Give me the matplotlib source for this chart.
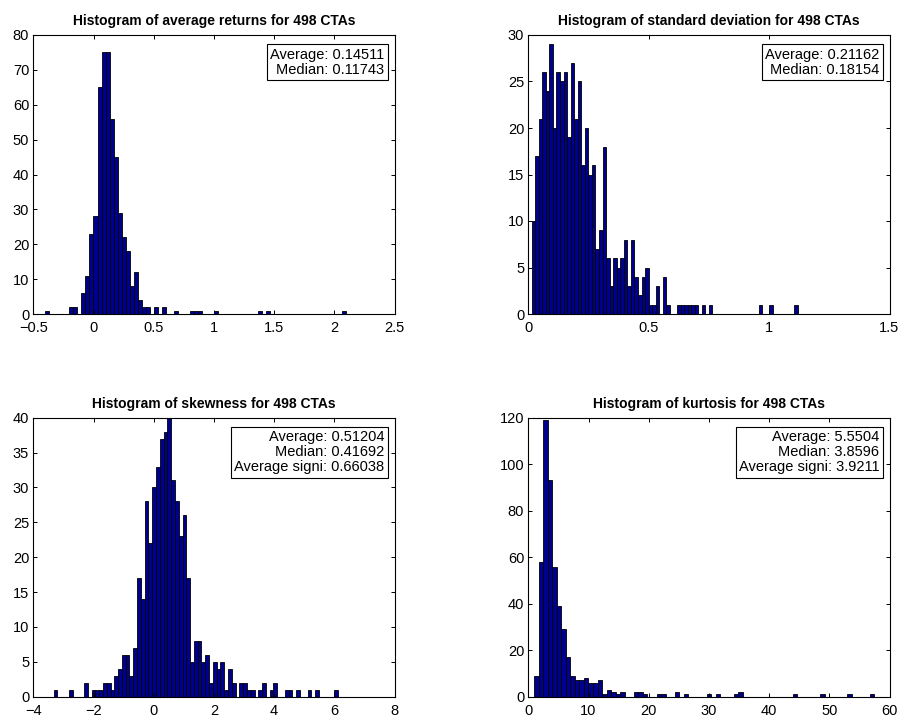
import numpy as np
import matplotlib
matplotlib.use("Agg")
import matplotlib.pyplot as plt
from matplotlib.ticker import FixedLocator, FuncFormatter

plt.rcParams['font.family'] = ['Liberation Sans', 'DejaVu Sans']

# ---- histogram data (75 bins each) ----
ret_start, ret_width = -0.40, 0.03333
ret_counts = [1, 0, 0, 0, 0, 0, 2, 2, 0, 6, 11, 23, 28, 65, 75, 75, 56, 45, 29, 22,
              18, 8, 12, 4, 2, 2, 0, 2, 0, 2, 0, 0, 1, 0, 0, 0, 1, 1, 1, 0,
              0, 0, 1, 0, 0, 0, 0, 0, 0, 0, 0, 0, 0, 1, 0, 1, 0, 0, 0, 0,
              0, 0, 0, 0, 0, 0, 0, 0, 0, 0, 0, 0, 0, 0, 1]

std_start, std_width = 0.014, 0.01472
std_counts = [10, 17, 21, 26, 24, 29, 20, 26, 25, 26, 19, 27, 21, 25, 16, 20, 15, 16, 7, 9,
              18, 6, 3, 6, 5, 6, 8, 3, 8, 4, 2, 4, 5, 1, 1, 3, 0, 4, 1, 0,
              0, 1, 1, 1, 1, 1, 1, 0, 1, 0, 1, 0, 0, 0, 0, 0, 0, 0, 0, 0,
              0, 0, 0, 0, 1, 0, 0, 1, 0, 0, 0, 0, 0, 0, 1]

skew_start, skew_width = -3.323, 0.1259
skew_counts = [1, 0, 0, 0, 1, 0, 0, 0, 2, 0, 1, 1, 1, 2, 2, 1, 3, 4, 6, 6,
               3, 7, 17, 14, 28, 22, 30, 33, 37, 38, 40, 31, 28, 23, 26, 17, 5, 8, 8, 5,
               6, 2, 5, 4, 5, 1, 4, 2, 0, 2, 2, 1, 1, 0, 1, 2, 0, 1, 2, 0,
               0, 1, 1, 0, 1, 0, 0, 1, 0, 1, 0, 0, 0, 0, 1]

kurt_start, kurt_width = 0.95, 0.754
kurt_counts = [9, 58, 119, 93, 56, 39, 29, 17, 9, 7, 7, 8, 6, 6, 7, 1, 3, 2, 1, 2,
               0, 0, 2, 2, 1, 0, 0, 1, 1, 0, 0, 2, 0, 1, 0, 0, 0, 0, 1, 0,
               1, 0, 0, 0, 1, 2, 0, 0, 0, 0, 0, 0, 0, 0, 0, 0, 0, 1, 0, 0,
               0, 0, 0, 1, 0, 0, 0, 0, 0, 1, 0, 0, 0, 0, 1]

titles = ["Histogram of average returns for 498 CTAs",
          "Histogram of standard deviation for 498 CTAs",
          "Histogram of skewness for 498 CTAs",
          "Histogram of kurtosis for 498 CTAs"]

stats_text = ["Average: 0.14511\nMedian: 0.11743",
              "Average: 0.21162\nMedian: 0.18154",
              "Average: 0.51204\nMedian: 0.41692\nAverage signi: 0.66038",
              "Average: 5.5504\nMedian: 3.8596\nAverage signi: 3.9211"]

xlims = [(-0.5, 2.5), (0, 1.5), (-4, 8), (0, 60)]
xticks = [np.arange(-0.5, 2.51, 0.5), np.arange(0, 1.51, 0.5),
          np.arange(-4, 8.1, 2), np.arange(0, 60.1, 10)]
ylims = [(0, 80), (0, 30), (0, 40), (0, 120)]
yticks = [np.arange(0, 81, 10), np.arange(0, 31, 5),
          np.arange(0, 41, 5), np.arange(0, 121, 20)]

hists = [(ret_start, ret_width, ret_counts),
         (std_start, std_width, std_counts),
         (skew_start, skew_width, skew_counts),
         (kurt_start, kurt_width, kurt_counts)]

W, H = 901, 720
fig = plt.figure(figsize=(W / 100, H / 100), dpi=100)

# axes rectangles in pixels: left, top, right, bottom
rects = [(33.3, 35.0, 394.5, 314.0),
         (528.3, 35.0, 889.5, 314.0),
         (33.3, 417.7, 394.5, 696.7),
         (528.3, 417.7, 889.5, 696.7)]


def fmt(v, pos):
    s = "%g" % v
    return s.replace("-", "\u2212")


for i in range(4):
    l, t, r, b = rects[i]
    ax = fig.add_axes([l / W, 1 - b / H, (r - l) / W, (b - t) / H])
    start, width, counts = hists[i]
    counts = np.asarray(counts)
    lefts = start + width * np.arange(len(counts))
    mask = counts > 0
    ax.bar(lefts[mask], counts[mask], width=width, align='edge',
           color='#00008F', edgecolor='black', linewidth=0.6)
    ax.set_xlim(*xlims[i])
    ax.set_ylim(*ylims[i])
    ax.xaxis.set_major_locator(FixedLocator(xticks[i]))
    ax.yaxis.set_major_locator(FixedLocator(yticks[i]))
    ax.xaxis.set_major_formatter(FuncFormatter(fmt))
    ax.yaxis.set_major_formatter(FuncFormatter(fmt))
    ax.tick_params(direction='in', length=3, width=0.7, top=True, right=True,
                   labelsize=10.5, colors='black')
    ax.tick_params(axis='x', pad=5)
    ax.tick_params(axis='y', pad=3)
    for sp in ax.spines.values():
        sp.set_linewidth(0.8)
    ax.set_title(titles[i], fontsize=10, fontweight='bold', pad=7)
    ax.text(0.972, 0.955, stats_text[i], transform=ax.transAxes,
            ha='right', va='top', multialignment='right', fontsize=10.5,
            linespacing=1.1,
            bbox=dict(boxstyle='square,pad=0.22', facecolor='white',
                      edgecolor='black', linewidth=0.8))

fig.savefig("out.png", dpi=100)
